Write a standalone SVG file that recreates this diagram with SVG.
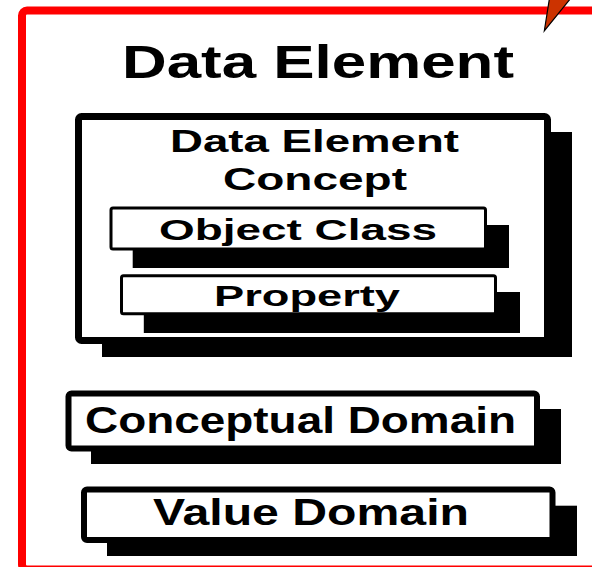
<svg xmlns="http://www.w3.org/2000/svg" width="592" height="567" viewBox="0 0 592 567">
<style>
.frame{fill:#FFFFFF;stroke:#FF0000;stroke-width:8}
.box{fill:#FFFFFF;stroke:#000000}
.shadow{fill:#000000}
.lbl{font-family:"Liberation Sans",Arial,sans-serif;font-weight:bold;fill:#000000}
</style>
<rect width="592" height="567" fill="#FFFFFF"/>
<g id="data-element">
<rect class="frame" x="22" y="10.5" width="600" height="559" rx="5"/>
<text class="lbl" x="122" y="78" font-size="47" textLength="392" lengthAdjust="spacingAndGlyphs">Data Element</text>
</g>
<g id="pointer">
<polygon points="544.3,31 550.8,-10 577.4,-10" fill="#CC3300" stroke="#000000" stroke-width="1.2"/>
</g>
<g id="data-element-concept">
<rect class="shadow" x="102" y="132" width="470" height="225"/>
<rect class="box" x="78.5" y="116.5" width="469" height="224" rx="3" stroke-width="7"/>
<text class="lbl" x="170" y="152" font-size="32" textLength="289" lengthAdjust="spacingAndGlyphs">Data Element</text>
<text class="lbl" x="223" y="190" font-size="32" textLength="184" lengthAdjust="spacingAndGlyphs">Concept</text>
</g>
<g id="object-class">
<rect class="shadow" x="132.7" y="225" width="376.3" height="43"/>
<rect class="box" x="111" y="208" width="374.5" height="41" rx="2" stroke-width="3"/>
<text class="lbl" x="159" y="240" font-size="29" textLength="278" lengthAdjust="spacingAndGlyphs">Object Class</text>
</g>
<g id="property">
<rect class="shadow" x="143.8" y="292" width="376.2" height="41"/>
<rect class="box" x="121.5" y="275.8" width="374" height="38" rx="2" stroke-width="3"/>
<text class="lbl" x="214" y="306" font-size="30" textLength="186" lengthAdjust="spacingAndGlyphs">Property</text>
</g>
<g id="conceptual-domain">
<rect class="shadow" x="91" y="409" width="470" height="55"/>
<rect class="box" x="68.5" y="393.5" width="468.5" height="55" rx="3" stroke-width="6"/>
<text class="lbl" x="85" y="433" font-size="36" textLength="431" lengthAdjust="spacingAndGlyphs">Conceptual Domain</text>
</g>
<g id="value-domain">
<rect class="shadow" x="107" y="505.7" width="470" height="50.3"/>
<rect class="box" x="84" y="489.5" width="468.5" height="50.5" rx="3" stroke-width="6"/>
<text class="lbl" x="153" y="525" font-size="36" textLength="316" lengthAdjust="spacingAndGlyphs">Value Domain</text>
</g>
<g id="connectors"/>
</svg>
